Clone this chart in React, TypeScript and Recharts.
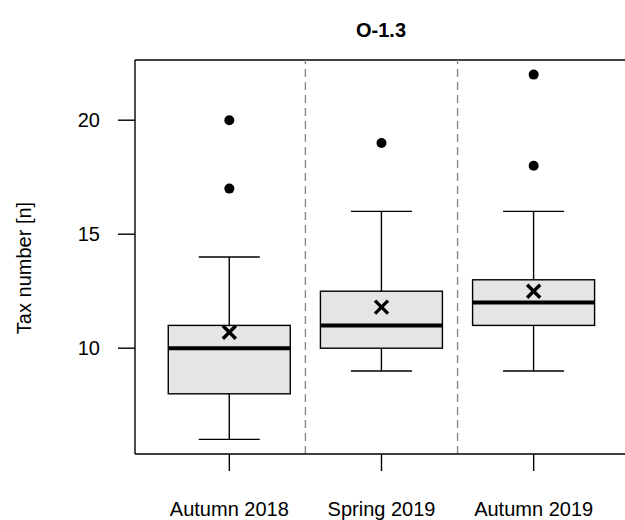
import {
  ComposedChart,
  Bar,
  Scatter,
  XAxis,
  YAxis,
  ReferenceLine,
} from "recharts"

const seasons = ["Autumn 2018", "Spring 2019", "Autumn 2019"]
const lowWhisker = [6, 9, 9]
const q1 = [8, 10, 11]
const median = [10, 11, 12]
const q3 = [11, 12.5, 13]
const highWhisker = [14, 16, 16]
const means = [10.7, 11.8, 12.5]
const outliers = [[17, 20], [19], [18, 22]]
const yTicks = [10, 15, 20]

const boxes = seasons.map((name, i) => ({
  pos: i + 1,
  name,
  range: [lowWhisker[i], highWhisker[i]],
  q1: q1[i],
  median: median[i],
  q3: q3[i],
}))

const meanPoints = seasons.map((_, i) => ({ pos: i + 1, mean: means[i] }))

const outlierPoints = outliers.flatMap((vals, i) =>
  vals.map((value) => ({ pos: i + 1, value }))
)

const font = "'Liberation Sans', Arial, sans-serif"

// draws the whole box + whiskers inside the bar spanning [low, high]
const BoxShape = (props: any) => {
  const { x, y, width, height, payload } = props
  const [lo, hi] = payload.range
  const top = Math.min(y, y + height)
  const bot = Math.max(y, y + height)
  const py = (v: number) => top + ((bot - top) * (hi - v)) / (hi - lo)
  const cx = x + width / 2
  const cap = width / 4
  return (
    <g stroke="#000" strokeWidth={1.4}>
      <line x1={cx} x2={cx} y1={py(hi)} y2={py(payload.q3)} />
      <line x1={cx} x2={cx} y1={py(payload.q1)} y2={py(lo)} />
      <line x1={cx - cap} x2={cx + cap} y1={py(hi)} y2={py(hi)} />
      <line x1={cx - cap} x2={cx + cap} y1={py(lo)} y2={py(lo)} />
      <rect
        x={x}
        y={py(payload.q3)}
        width={width}
        height={py(payload.q1) - py(payload.q3)}
        fill="#e5e5e5"
      />
      <line x1={x} x2={x + width} y1={py(payload.median)} y2={py(payload.median)} strokeWidth={4} />
    </g>
  )
}

const MeanCross = (props: any) => {
  const { cx, cy } = props
  const s = 6.5
  return (
    <g stroke="#000" strokeWidth={3.4}>
      <line x1={cx - s} y1={cy - s} x2={cx + s} y2={cy + s} />
      <line x1={cx - s} y1={cy + s} x2={cx + s} y2={cy - s} />
    </g>
  )
}

const Dot = (props: any) => <circle cx={props.cx} cy={props.cy} r={5} fill="#000" />

export default function App() {
  return (
    <div style={{ position: "absolute", left: 0, top: 0, width: 625, height: 520, overflow: "hidden", background: "#fff" }}>
      <ComposedChart
        width={640}
        height={520}
        data={boxes}
        margin={{ top: 60, right: 12, bottom: 0, left: 65 }}
      >
        <text x={381} y={30} textAnchor="middle" dominantBaseline="central" fontFamily={font} fontSize={20} fontWeight="bold" fill="#000">
          O-1.3
        </text>
        <XAxis
          dataKey="pos"
          type="number"
          domain={[0.38, 3.62]}
          ticks={[1, 2, 3]}
          tickFormatter={(v) => seasons[v - 1]}
          height={66}
          tickSize={17}
          tickMargin={31}
          axisLine={{ stroke: "#000", strokeWidth: 1.4 }}
          tickLine={{ stroke: "#000", strokeWidth: 1.4 }}
          tick={{ fill: "#000", fontSize: 20, fontFamily: font }}
          allowDataOverflow
        />
        <YAxis
          type="number"
          domain={[5.36, 22.64]}
          ticks={yTicks}
          width={70}
          tickSize={17}
          tickMargin={18}
          axisLine={{ stroke: "#000", strokeWidth: 1.4 }}
          tickLine={{ stroke: "#000", strokeWidth: 1.4 }}
          tick={{ fill: "#000", fontSize: 20, fontFamily: font }}
          allowDataOverflow
          label={{
            content: () => (
              <text x={24} y={268} transform="rotate(-90 24 268)" textAnchor="middle" dominantBaseline="central" fontFamily={font} fontSize={20} fill="#000">
                Tax number [n]
              </text>
            ),
          }}
        />
        <ReferenceLine y={22.64} stroke="#000" strokeWidth={1.4} />
        <ReferenceLine x={1.5} stroke="#888" strokeWidth={1.4} strokeDasharray="8 5" />
        <ReferenceLine x={2.5} stroke="#888" strokeWidth={1.4} strokeDasharray="8 5" />
        <Bar dataKey="range" barSize={122} shape={BoxShape} isAnimationActive={false} />
        <Scatter data={meanPoints} dataKey="mean" shape={MeanCross} isAnimationActive={false} />
        <Scatter data={outlierPoints} dataKey="value" shape={Dot} isAnimationActive={false} />
      </ComposedChart>
    </div>
  )
}
